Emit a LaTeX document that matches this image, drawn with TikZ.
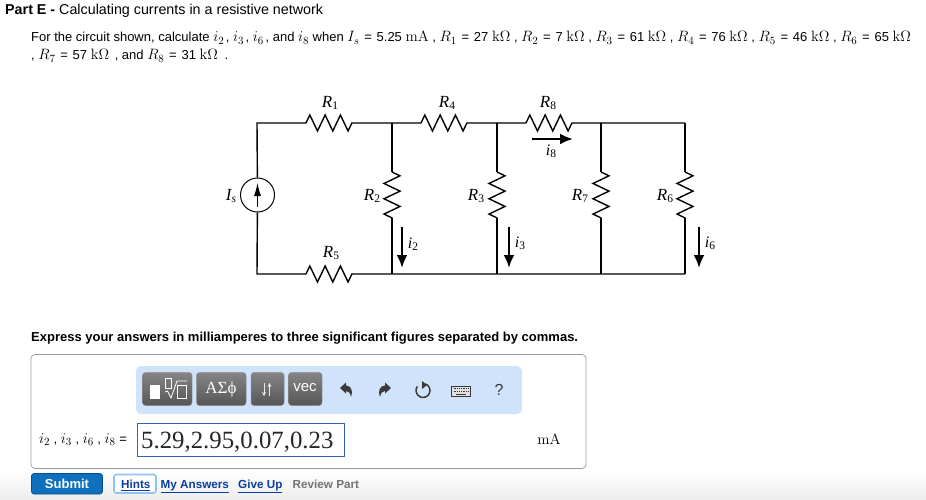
\documentclass[tikz,border=0pt]{standalone}
\usepackage{fix-cm}
\usepackage{amsmath}
\usepackage{amssymb}
\usepackage[no-math]{fontspec}
\setmainfont{Liberation Sans}
\newfontfamily\circfont{Liberation Serif}
\usetikzlibrary{arrows.meta,decorations.pathmorphing}
\DeclareMathSizes{13}{15}{11}{8}

\definecolor{toolblue}{HTML}{CFE4FB}
\definecolor{linkblue}{HTML}{0A3D9E}
\definecolor{submitblue}{HTML}{0F70C0}
\definecolor{fieldblue}{HTML}{2F62C0}
\definecolor{hintblue}{HTML}{8FC3F5}
\definecolor{iconDark}{HTML}{3A3A3A}

\newcommand{\cirlab}[2]{{\circfont\fontsize{17}{17}\selectfont\itshape #1\raisebox{-0.3ex}{\fontsize{11.5}{11.5}\selectfont #2}}}
\newcommand{\curlab}[2]{{\circfont\fontsize{16}{16}\selectfont\itshape #1\raisebox{-0.3ex}{\fontsize{11.5}{11.5}\selectfont\upshape #2}}}
\newcommand{\eqs}{\hspace{1.15pt} =\hspace{1.15pt} }
\newcommand{\unitk}{$\mathrm{k\Omega}$}

\tikzset{
    txt/.style={inner sep=0pt, anchor=base west, font=\fontsize{13}{15}\selectfont},
    boldtxt/.style={txt, font=\fontsize{13}{15}\selectfont\bfseries},
    linktxt/.style={boldtxt, font=\fontsize{11.7}{14}\selectfont\bfseries, text=linkblue},
    cirtxt/.style={inner sep=0pt, anchor=center},
    wire/.style={line width=1.4pt},
    resistor/.style={wire, decorate, decoration={zigzag, segment length=15.3pt, amplitude=8pt}},
    current/.style={line width=2.4pt, -{Latex[length=13pt,width=11pt]}},
    toolbtn/.style={rounded corners=3pt, draw=black!45, line width=0.5pt, top color=black!48, bottom color=black!66},
    icon/.style={fill=iconDark}
}

\begin{document}
\begin{tikzpicture}[x=1pt, y=-1pt]
    \useasboundingbox (0, 0) rectangle (926, 500);
    \fill[white] (0, 0) rectangle (926, 470);
    \shade[top color=white, bottom color=black!7] (0, 470) rectangle (926, 500);

    % statement
    \node[boldtxt, font=\fontsize{14.3}{16}\selectfont\bfseries] (parttag) at (5, 15) {Part E -};
    \node[txt, font=\fontsize{14.3}{16}\selectfont] (parttitle) at (59, 15) {Calculating currents in a resistive network};
    \node[txt] (lineone) at (31, 42) {For the circuit shown, calculate $i_2$\hspace{-2pt} , $i_3$\hspace{-2pt} , $i_6$\hspace{-2pt} , and $i_8$ when $I_s$\eqs 5.25 $\mathrm{mA}$ , $R_1$\eqs 27 \unitk{} , $R_2$\eqs 7 \unitk{} , $R_3$\eqs 61 \unitk{} , $R_4$\eqs 76 \unitk{} , $R_5$\eqs 46 \unitk{} , $R_6$\eqs 65 \unitk};
    \node[txt] (linetwo) at (31, 60) {, $R_7$\eqs 57 \unitk{}\hspace{2pt} , and $R_8$\eqs 31 \unitk{}\hspace{3pt} .};

    % circuit
    \coordinate (tl) at (257, 123);
    \coordinate (ja) at (392, 123);
    \coordinate (jb) at (497, 123);
    \coordinate (jc) at (601, 123);
    \coordinate (tr) at (685, 123);
    \coordinate (bl) at (257, 274);
    \coordinate (ka) at (392, 274);
    \coordinate (kb) at (497, 274);
    \coordinate (kc) at (601, 274);
    \coordinate (br) at (685, 274);
    \node[circle, draw, line width=1pt, minimum size=34pt, inner sep=0pt] (src) at (257.5, 195) {};

    \coordinate (r1a) at (306, 123);
    \coordinate (r1b) at (353, 123);
    \coordinate (r4a) at (421, 123);
    \coordinate (r4b) at (467, 123);
    \coordinate (r8a) at (526, 123);
    \coordinate (r8b) at (573, 123);
    \coordinate (r5a) at (306, 274);
    \coordinate (r5b) at (353, 274);

    \draw[wire] (src) -- (tl) -- (r1a) (r1b) -- (ja) -- (r4a) (r4b) -- (jb) -- (r8a) (r8b) -- (jc) -- (tr);
    \draw[wire] (src) -- (bl) -- (r5a) (r5b) -- (ka) -- (kb) -- (kc) -- (br);
    \draw[resistor] (r1a) -- (r1b);
    \draw[resistor] (r4a) -- (r4b);
    \draw[resistor] (r8a) -- (r8b);
    \draw[resistor] (r5a) -- (r5b);

    \foreach \xpos/\top/\bot/\rname in {392/ja/ka/two, 497/jb/kb/three, 601/jc/kc/seven, 685/tr/br/six} {
        \coordinate (r\rname a) at (\xpos, 172);
        \coordinate (r\rname b) at (\xpos, 218);
        \draw[wire] (\top) -- (r\rname a) (r\rname b) -- (\bot);
        \draw[resistor] (r\rname a) -- (r\rname b);
    }

    \coordinate (srctail) at (257.5, 207);
    \coordinate (srchead) at (257.5, 183);
    \draw[line width=0.9pt, -{Latex[length=13pt,width=7pt]}] (srctail) -- (srchead);

    \coordinate (itwoa) at (402, 227);
    \coordinate (itwob) at (402, 268);
    \coordinate (ithreea) at (509, 227);
    \coordinate (ithreeb) at (509, 268);
    \coordinate (isixa) at (699, 227);
    \coordinate (isixb) at (699, 268);
    \coordinate (ieighta) at (532, 139);
    \coordinate (ieightb) at (573, 139);
    \draw[current] (itwoa) -- (itwob);
    \draw[current] (ithreea) -- (ithreeb);
    \draw[current] (isixa) -- (isixb);
    \draw[current] (ieighta) -- (ieightb);

    \node[cirtxt] (labone) at (330, 103) {\cirlab{R}{\upshape 1}};
    \node[cirtxt] (labfour) at (447, 103) {\cirlab{R}{\upshape 4}};
    \node[cirtxt] (labeight) at (548, 103) {\cirlab{R}{\upshape 8}};
    \node[cirtxt] (labfive) at (331, 253) {\cirlab{R}{\upshape 5}};
    \node[cirtxt] (labtwo) at (372, 196) {\cirlab{R}{\upshape 2}};
    \node[cirtxt] (labthree) at (476, 196) {\cirlab{R}{\upshape 3}};
    \node[cirtxt] (labseven) at (580, 196) {\cirlab{R}{\upshape 7}};
    \node[cirtxt] (labsix) at (665, 196) {\cirlab{R}{\upshape 6}};
    \node[cirtxt] (labsrc) at (231, 196) {\cirlab{I}{s}};
    \node[cirtxt] (curtwo) at (413, 244) {\curlab{i}{2}};
    \node[cirtxt] (curthree) at (520, 243) {\curlab{i}{3}};
    \node[cirtxt] (cursix) at (710, 243) {\curlab{i}{6}};
    \node[cirtxt] (cureight) at (551, 151) {\curlab{i}{8}};

    \node[boldtxt] (express) at (31, 341) {Express your answers in milliamperes to three significant figures separated by commas.};

    % answer panel
    \draw[black!40, rounded corners=4pt, line width=0.7pt, fill=white] (31, 354.5) rectangle (586, 468.5);
    \fill[toolblue, rounded corners=5pt] (136, 366) rectangle (522, 414);

    \draw[toolbtn] (142.5, 372.5) rectangle (192, 405.5);
    \draw[toolbtn] (196.5, 372.5) rectangle (246, 405.5);
    \draw[toolbtn] (251, 372.5) rectangle (284, 405.5);
    \draw[toolbtn] (288.5, 372.5) rectangle (322, 405.5);

    \fill[white] (150, 385) rectangle (160, 399);
    \draw[white, line width=0.7pt] (165.8, 378.5) rectangle (171.5, 388);
    \draw[white, line width=0.8pt] (165, 392) -- (167.5, 391) -- (171, 398) -- (177, 381) -- (187, 381);
    \draw[white, line width=0.7pt] (177.5, 385.5) rectangle (186, 398.5);
    \node[cirtxt, text=white] (greekbtn) at (221, 389) {\circfont\fontsize{17}{17}\selectfont ΑΣϕ};
    \draw[black!8, line width=0.9pt, -{Stealth[length=4pt,width=4pt]}] (264, 383) -- (264, 396);
    \draw[black!8, line width=0.9pt, -{Stealth[length=4pt,width=4pt]}] (269.5, 396) -- (269.5, 383);
    \node[cirtxt, text=white] (vecbtn) at (305, 388) {\fontsize{15}{15}\selectfont vec};

    \fill[icon] (340, 388) -- (346, 382.5) -- (346, 385.5) .. controls (351, 385.5) and (353.5, 391) .. (351, 397) .. controls (350, 393) and (349, 391) .. (346, 391) -- (346, 393.5) -- cycle;
    \fill[icon] (391, 388) -- (385, 382.5) -- (385, 385.5) .. controls (380, 385.5) and (377.5, 391) .. (380, 397) .. controls (381, 393) and (382, 391) .. (385, 391) -- (385, 393.5) -- cycle;
    \draw[iconDark, line width=1.5pt] (425.4, 383.9) arc[start angle=-70, end angle=215, radius=7];
    \fill[icon] (422, 381) -- (427, 385) -- (422, 389) -- cycle;

    \draw[iconDark, line width=0.9pt, fill=black!12] (451.5, 386) rectangle (470.5, 396.5);
    \foreach \ypos in {388.5, 391} {
        \draw[iconDark, line width=1pt, dash pattern=on 1pt off 0.8pt] (453.5, \ypos) -- (468.5, \ypos);
    }
    \draw[iconDark, line width=1pt] (456, 394) -- (466, 394);
    \node[cirtxt, text=iconDark] (helpbtn) at (499, 390) {\fontsize{16}{16}\selectfont ?};

    \node[cirtxt] (anslab) at (83, 439.5) {\fontsize{13}{15}\selectfont $i_2$ , $i_3$ , $i_6$ , $i_8$ =};
    \draw[fieldblue, line width=0.9pt, fill=white] (137.5, 423.5) rectangle (344, 456.5);
    \node[inner sep=0pt, anchor=base west, text=black!85] (ansval) at (141, 448) {\circfont\fontsize{24.8}{25}\selectfont 5.29,2.95,0.07,0.23};
    \node[cirtxt] (ansunit) at (549, 439) {\fontsize{13}{15}\selectfont $\mathrm{mA}$};

    % buttons
    \draw[submitblue!70!black, fill=submitblue, rounded corners=2.5pt, line width=0.6pt] (31.5, 473.5) rectangle (102.5, 494);
    \node[cirtxt, text=white] (submit) at (67, 483.5) {\fontsize{13}{15}\selectfont\bfseries Submit};
    \draw[hintblue, fill=white, rounded corners=2.5pt, line width=1.6pt] (114, 474.5) rectangle (156, 493);
    \node[linktxt] (hints) at (121, 488) {\underline{Hints}};
    \node[linktxt] (myanswers) at (160.5, 488) {\underline{My Answers}};
    \node[linktxt] (giveup) at (238, 488) {\underline{Give Up}};
    \node[linktxt, text=black!55] (reviewpart) at (292.5, 488) {Review Part};
\end{tikzpicture}
\end{document}
